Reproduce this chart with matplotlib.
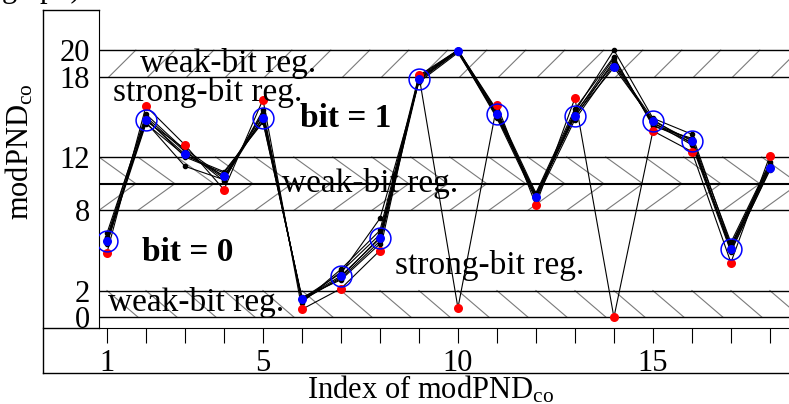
import numpy as np
import matplotlib
matplotlib.use('Agg')
import matplotlib.pyplot as plt
from matplotlib.lines import Line2D

plt.rcParams['font.family'] = ['Liberation Serif', 'DejaVu Serif']
plt.rcParams['mathtext.fontset'] = 'custom'
plt.rcParams['mathtext.rm'] = 'Liberation Serif'
plt.rcParams['mathtext.it'] = 'Liberation Serif:italic'

# index of modPND_co
idx = np.arange(1, 19)

# reference (enrolment) measurement, blue
blue = [5.7, 14.8, 12.2, 10.6, 14.9, 1.35, 3.1, 5.9, 17.8, 19.9,
        15.2, 9.0, 15.1, 18.7, 14.7, 13.2, 5.15, 11.2]
# worst-case measurement, red
red = [4.85, 15.8, 12.9, 9.55, 16.3, 0.6, 2.15, 5.0, 18.1, 0.7,
       15.9, 8.4, 16.4, 0.0, 13.95, 12.4, 4.1, 12.1]
# other measurements, black
m1 = [6.3, 15.0, 12.4, 10.4, 15.2, 1.2, 3.4, 6.2, 18.0, 20.0,
      15.0, 9.2, 15.4, 20.0, 14.9, 13.7, 5.4, 11.5]
m2 = [5.9, 14.6, 11.3, 10.3, 15.0, 1.3, 2.9, 5.7, 17.9, 20.0,
      15.3, 9.1, 15.0, 19.2, 14.5, 13.3, 5.0, 11.0]
m3 = [5.5, 14.9, 12.0, 10.8, 14.7, 1.4, 3.3, 7.4, 17.6, 19.8,
      15.1, 8.9, 15.3, 19.0, 14.8, 13.0, 5.3, 11.4]
m4 = [6.0, 15.2, 12.5, 10.2, 15.5, 1.1, 3.6, 6.5, 18.1, 20.0,
      15.5, 9.3, 15.6, 19.5, 14.3, 13.4, 5.6, 11.6]
m5 = [5.6, 14.5, 12.1, 10.9, 14.6, 1.5, 2.8, 5.5, 17.7, 19.9,
      14.9, 8.8, 14.8, 18.9, 14.6, 12.9, 4.9, 11.1]
m6 = [5.8, 14.7, 12.6, 10.5, 15.3, 1.25, 3.0, 6.0, 17.8, 20.0,
      15.4, 9.1, 15.2, 19.4, 14.4, 13.1, 5.2, 11.3]
others = [m1, m2, m3, m4, m5, m6]

# region borders
borders = [0, 2, 8, 10, 12, 18, 20]
yticks = [0, 2, 8, 12, 18, 20]
xticks = list(range(1, 19))
xticklabels = ['1', '', '', '', '5', '', '', '', '', '10',
               '', '', '', '', '15', '', '', '']

W, H = 789, 404
fig = plt.figure(figsize=(W / 100, H / 100), dpi=100)
ax = fig.add_axes([99 / W, (H - 328) / H, (W - 99) / W, (328 - 10) / H])
ax.set_xlim(0.795, 18.49)
ax.set_ylim(-0.80, 23.0)

# hatching of the weak-bit regions
hc = '#7a7a7a'
for k in range(-2, 21):
    ax.plot([k + 0.05, k + 0.74], [18, 20], color=hc, lw=0.8, zorder=1)
    ax.plot([k - 0.21, k + 0.74], [12, 10], color=hc, lw=0.8, zorder=1)
    ax.plot([k - 0.21, k + 0.74], [8, 10], color=hc, lw=0.8, zorder=1)
    ax.plot([k, k + 0.8], [2, 0], color=hc, lw=0.8, zorder=1)

for b in borders:
    ax.axhline(b, color='black', lw=1.5 if b == 10 else 1.0, zorder=2)

# measurements
for m in others:
    ax.plot(idx, m, color='black', lw=0.8, marker='o', ms=3, zorder=3)
ax.plot(idx, red, color='black', lw=0.8, zorder=3)
ax.plot(idx, blue, color='black', lw=0.8, zorder=3)
ax.plot(idx, red, 'o', color='red', ms=6.5, mec='none', zorder=4)
ax.plot(idx, blue, 'o', color='blue', ms=6.5, mec='none', zorder=5)

blue_a = np.array(blue)
strong = ((blue_a > 2) & (blue_a < 8)) | ((blue_a > 12.3) & (blue_a < 18))
ax.plot(idx[strong], blue_a[strong], 'o', ms=15, mfc='none', mec='blue',
        mew=1.1, zorder=6)

# region labels
fs = 24
ax.text(1.85, 19.0, 'weak-bit reg.', fontsize=fs, va='center', zorder=7)
ax.text(1.15, 16.8, 'strong-bit reg.', fontsize=fs, va='center', zorder=7)
ax.text(5.95, 14.85, 'bit = 1', fontsize=fs, fontweight='bold', va='center', zorder=7)
ax.text(5.5, 10.0, 'weak-bit reg.', fontsize=fs, va='center', zorder=7)
ax.text(1.9, 4.85, 'bit = 0', fontsize=fs, fontweight='bold', va='center', zorder=7)
ax.text(8.38, 3.9, 'strong-bit reg.', fontsize=fs, va='center', zorder=7)
ax.text(1.03, 1.1, 'weak-bit reg.', fontsize=fs, va='center', zorder=7)

ax.spines['top'].set_visible(False)
ax.spines['right'].set_visible(False)
ax.set_xticks(xticks)
ax.set_xticklabels(xticklabels)
ax.set_yticks(yticks)
ax.tick_params(axis='x', direction='out', length=10.8, width=0.8, pad=4, labelsize=22)
ax.tick_params(axis='y', length=0, pad=6.5, labelsize=22)

# outer frame
def fline(x0, y0, x1, y1):
    fig.add_artist(Line2D([x0 / W, x1 / W], [1 - y0 / H, 1 - y1 / H],
                          color='black', lw=1.0))

fline(43, 10, 43, 373)
fline(43, 10, 99, 10)
fline(43, 328, 99, 328)
fline(43, 373, W, 373)

fig.text(20 / W, 1 - 152 / H, r'modPND$_{\mathrm{co}}$', fontsize=22,
         rotation=90, ha='center', va='center')
fig.text(430 / W, 1 - 390 / H, r'Index of modPND$_{\mathrm{co}}$', fontsize=22,
         ha='center', va='center')
# caption line above, cut by the crop
fig.text(2 / W, 1 + 3 / H, 'graph)', fontsize=22, ha='left', va='baseline')

fig.savefig('out.png', dpi=100)
